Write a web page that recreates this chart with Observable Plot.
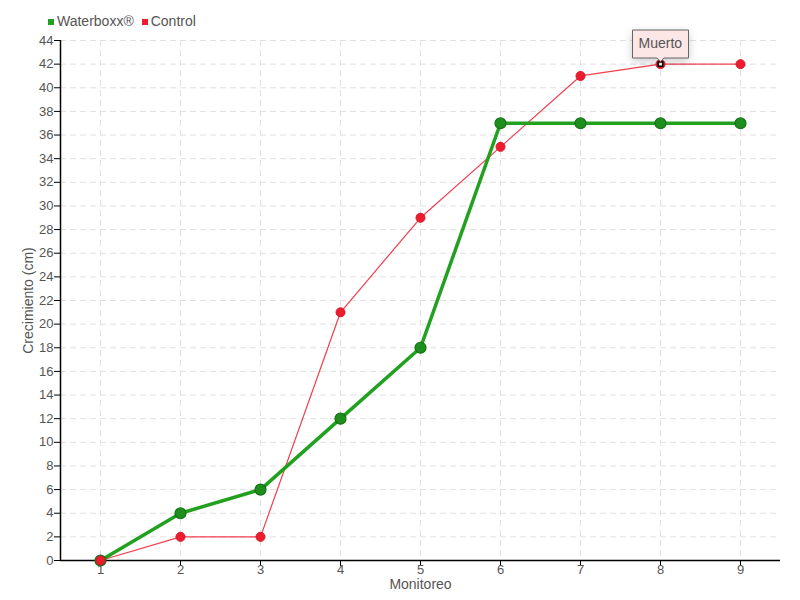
<!DOCTYPE html>
<html><head><meta charset="utf-8">
<script src="https://cdn.jsdelivr.net/npm/d3@7"></script>
<script src="https://cdn.jsdelivr.net/npm/@observablehq/plot@0.6"></script>
<style>
body{margin:0;background:#fff;font-family:"Liberation Sans",sans-serif;}
#wrap{position:relative;width:800px;height:600px;}
#legend{position:absolute;left:48px;top:13px;font-size:14px;color:#555;display:flex;gap:8px;align-items:center;}
#legend span.sw{display:inline-block;width:6px;height:6px;margin-right:3px;vertical-align:middle;}
</style></head><body>
<div id="wrap"><div id="legend"></div></div>
<script>
const monitoreo = [1,2,3,4,5,6,7,8,9];
const waterboxx = [0,4,6,12,18,37,37,37,37];
const control = [0,2,2,21,29,35,41,42,42];
const seriesNames = ["Waterboxx®","Control"];
const seriesColors = ["#22a01f","#ee1c2e"];
const yTicks = d3.range(0,45,2);
const tipPoint = [{x:8, y:42, label:"Muerto"}];

const wData = monitoreo.map((m,i)=>({x:m,y:waterboxx[i]}));
const cData = monitoreo.map((m,i)=>({x:m,y:control[i]}));

const leg = document.getElementById("legend");
seriesNames.forEach((n,i)=>{
  const d=document.createElement("div");
  d.innerHTML=`<span class="sw" style="background:${seriesColors[i]}"></span>${n}`;
  leg.appendChild(d);
});

const chart = Plot.plot({
  width:800, height:600,
  marginLeft:60, marginRight:20, marginTop:40, marginBottom:40,
  style:{fontFamily:'"Liberation Sans",sans-serif', fontSize:"14px", color:"#555", background:"transparent"},
  x:{domain:[0.5,9.5]},
  y:{domain:[0,44]},
  marks:[
    Plot.gridX(monitoreo,{stroke:"#e0e0e0", strokeOpacity:1, strokeDasharray:"6,4"}),
    Plot.gridY(yTicks,{stroke:"#e0e0e0", strokeOpacity:1, strokeDasharray:"6,4"}),
    Plot.ruleX([0.5],{stroke:"black", strokeWidth:1.5}),
    Plot.ruleY([0],{stroke:"black", strokeWidth:1.5}),
    Plot.axisY(yTicks,{stroke:"black", fill:"#555", tickSize:6, tickPadding:1, fontSize:13, label:null}),
    Plot.axisX(monitoreo,{stroke:"black", fill:"#555", tickSize:6, tickPadding:-2, fontSize:13, label:null}),
    Plot.text(["Crecimiento (cm)"],{frameAnchor:"left", dx:-32, rotate:-90, textAnchor:"middle", lineAnchor:"middle", fill:"#555", fontSize:14}),
    Plot.text(["Monitoreo"],{frameAnchor:"bottom", dy:24, lineAnchor:"middle", textAnchor:"middle", fill:"#555", fontSize:14}),
    Plot.line(cData,{x:"x",y:"y",stroke:seriesColors[1],strokeWidth:1.2, strokeOpacity:0.85}),
    Plot.dot(cData,{x:"x",y:"y",r:4.5,fill:seriesColors[1],stroke:"#d81525",strokeWidth:1}),
    Plot.line(wData,{x:"x",y:"y",stroke:seriesColors[0],strokeWidth:3.5}),
    Plot.dot(wData,{x:"x",y:"y",r:5.5,fill:"#1d8f1d",stroke:"#176e17",strokeWidth:1.2}),
    Plot.dot(cData.slice(0,1),{x:"x",y:"y",r:4.5,fill:seriesColors[1],stroke:"#d81525",strokeWidth:1}),
    Plot.dot(tipPoint,{x:"x",y:"y",r:2.5,symbol:"square",fill:"white",stroke:"black",strokeWidth:1.5}),
    Plot.tip(tipPoint,{x:"x",y:"y",title:"label",anchor:"bottom",fill:"#fde6e6",stroke:"#666",textFill:"#555",fontSize:14,pointerSize:7,textPadding:6,dy:-3})
  ]
});
document.getElementById("wrap").prepend(chart);
chart.style.position="absolute";chart.style.left="0";chart.style.top="0";
</script>
</body></html>
